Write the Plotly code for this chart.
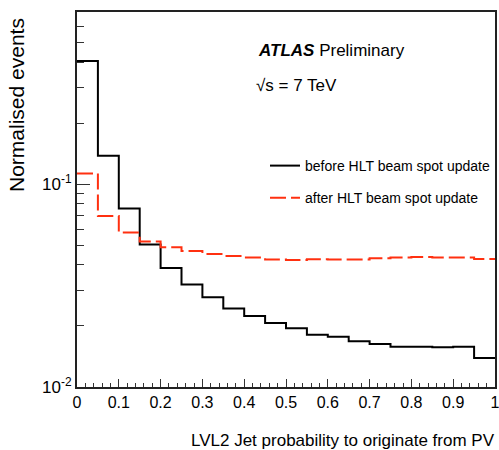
import plotly.graph_objects as go

# Bin edges (0.05 wide bins from 0 to 1)
bin_edges = [0.0, 0.05, 0.10, 0.15, 0.20, 0.25, 0.30, 0.35, 0.40, 0.45, 0.50,
             0.55, 0.60, 0.65, 0.70, 0.75, 0.80, 0.85, 0.90, 0.95, 1.0]

# Normalised events per bin
before_update = [0.405, 0.138, 0.0759, 0.0504, 0.0386, 0.0320, 0.0277, 0.0244,
                 0.0224, 0.0207, 0.0195, 0.0181, 0.0177, 0.0168, 0.0163, 0.0158,
                 0.0158, 0.0157, 0.0158, 0.0139]
after_update = [0.113, 0.0696, 0.0577, 0.0521, 0.0489, 0.0469, 0.0453, 0.0443,
                0.0435, 0.0425, 0.0423, 0.0426, 0.0425, 0.0425, 0.0431, 0.0435,
                0.0437, 0.0435, 0.0435, 0.0428]

x_tick_vals = [0, 0.1, 0.2, 0.3, 0.4, 0.5, 0.6, 0.7, 0.8, 0.9, 1]
x_tick_text = ["0", "0.1", "0.2", "0.3", "0.4", "0.5", "0.6", "0.7", "0.8", "0.9", "1"]
y_tick_vals = [0.01, 0.1]
y_tick_text = ["10<sup>-2</sup>", "10<sup>-1</sup>"]
y_minor_vals = [0.02, 0.03, 0.04, 0.05, 0.06, 0.07, 0.08, 0.09, 0.2, 0.3, 0.4, 0.5, 0.6, 0.7]

FONT = "Liberation Sans, Arial, Helvetica, sans-serif"
RED = "#ff3010"


def step_xy(edges, vals):
    return list(edges), list(vals) + [vals[-1]]


fig = go.Figure()
xb, yb = step_xy(bin_edges, before_update)
xa, ya = step_xy(bin_edges, after_update)

fig.add_trace(go.Scatter(
    x=xb, y=yb, mode="lines", line=dict(shape="hv", color="black", width=2),
    name="before HLT beam spot update", legendgroup="a", hoverinfo="skip"))
fig.add_trace(go.Scatter(
    x=xa, y=ya, mode="lines", line=dict(shape="hv", color=RED, width=2, dash="16px,5px"),
    name="after HLT beam spot update", legendgroup="b", hoverinfo="skip"))

L, R, T, B = 77, 4, 12, 63
W, H = 499, 450
pw, ph = W - L - R, H - T - B


def px(x):
    return (x - L) / pw


def py(y):
    return (H - B - y) / ph


fig.update_layout(
    width=W, height=H,
    margin=dict(l=L, r=R, t=T, b=B, autoexpand=False),
    paper_bgcolor="white", plot_bgcolor="white",
    font=dict(family=FONT, color="black"),
    showlegend=True,
    legend=dict(
        x=px(265), y=py(150), xanchor="left", yanchor="top",
        font=dict(size=14, family=FONT), bgcolor="rgba(0,0,0,0)",
        tracegroupgap=11, traceorder="grouped", itemwidth=30,
    ),
    xaxis=dict(
        range=[0, 1], showgrid=False, zeroline=False, automargin=False,
        showline=True, linecolor="#222", linewidth=2, mirror=True,
        ticks="inside", ticklen=8, tickwidth=1, tickcolor="#333",
        tickmode="array", tickvals=x_tick_vals, ticktext=x_tick_text,
        tickfont=dict(size=16, family=FONT), ticklabeloverflow="allow",
        minor=dict(dtick=0.02, tick0=0, ticks="inside", ticklen=4, tickcolor="#333", tickwidth=1),
    ),
    yaxis=dict(
        type="log", range=[-2, -0.151], showgrid=False, zeroline=False, automargin=False,
        showline=True, linecolor="#222", linewidth=2, mirror=True,
        ticks="inside", ticklen=13, tickwidth=1, tickcolor="#333",
        tickmode="array", tickvals=y_tick_vals, ticktext=y_tick_text,
        tickfont=dict(size=17, family=FONT), ticklabeloverflow="allow",
        minor=dict(tickmode="array", tickvals=y_minor_vals, ticks="inside",
                   ticklen=7, tickcolor="#333", tickwidth=1),
    ),
    annotations=[
        dict(text="<b><i>ATLAS</i></b> Preliminary", xref="paper", yref="paper",
             x=px(256), y=py(51), xanchor="left", yanchor="middle",
             showarrow=False, font=dict(size=17, family=FONT)),
        dict(text="\u221As = 7 TeV", xref="paper", yref="paper",
             x=px(254), y=py(85), xanchor="left", yanchor="middle",
             showarrow=False, font=dict(size=17, family=FONT)),
        dict(text="LVL2 Jet probability to originate from PV", xref="paper", yref="paper",
             x=px(497), y=py(441), xanchor="right", yanchor="middle",
             showarrow=False, font=dict(size=17, family=FONT)),
        dict(text="Normalised events", xref="paper", yref="paper",
             x=px(16), y=py(105), xanchor="center", yanchor="middle", textangle=-90,
             showarrow=False, font=dict(size=21, family=FONT)),
    ],
)

fig.write_html("out.html", config={"displayModeBar": False},
               post_script="document.body.style.margin='0';document.body.style.padding='0';")
